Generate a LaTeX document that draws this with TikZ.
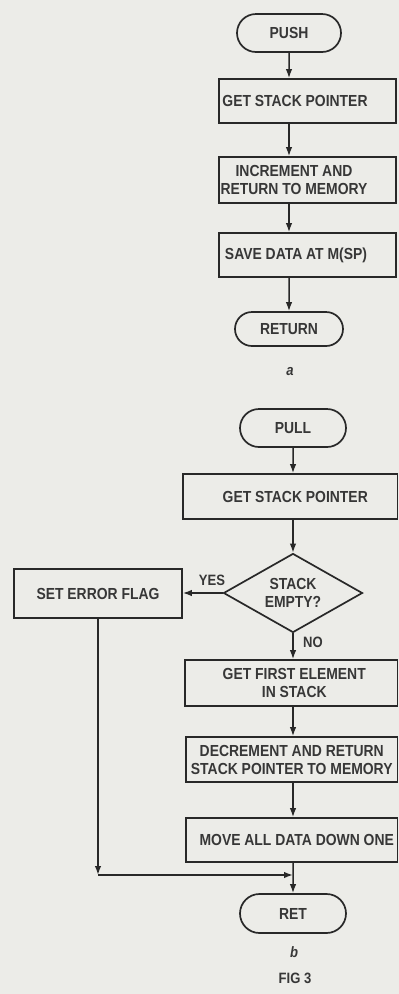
\documentclass[tikz,border=0pt]{standalone}
\usepackage{fontspec}
\setmainfont{Liberation Sans}[FakeStretch=0.87]
\usetikzlibrary{arrows.meta,shapes.geometric,shapes.misc}
\definecolor{paper}{RGB}{236,236,232}
\definecolor{ink}{RGB}{40,40,40}
\definecolor{textink}{RGB}{55,55,55}
\tikzset{
  boxtxt/.style={text=textink, font=\fontsize{16}{18}\selectfont\bfseries},
  box/.style={boxtxt, draw=ink, line width=1.7pt, rectangle, inner sep=0pt, align=center},
  term/.style={boxtxt, draw=ink, line width=1.7pt, rounded rectangle, inner sep=0pt},
  decision/.style={boxtxt, draw=ink, line width=1.7pt, diamond, aspect=1.76, inner sep=0pt, align=center},
  arr/.style={draw=ink, line width=1.5pt, -{Latex[length=9pt,width=6.5pt]}},
  lbl/.style={text=textink, font=\fontsize{15}{16}\selectfont\bfseries}
}
\begin{document}
\begin{tikzpicture}[x=1pt,y=-1pt]
\fill[paper] (0,0) rectangle (399,994);
\useasboundingbox (0,0) rectangle (399,994);
% (a) PUSH
\node[term, minimum width=104pt, minimum height=38pt] (push) at (289,33) {PUSH};
\node[box, minimum width=177pt, minimum height=44pt] (gsp1) at (307.5,101) {GET STACK POINTER\hspace*{25pt}};
\node[box, minimum width=177pt, minimum height=46pt] (inc) at (307.5,180) {INCREMENT AND\hspace*{27pt}\\RETURN TO MEMORY\hspace*{27pt}};
\node[box, minimum width=177pt, minimum height=44pt] (save) at (307.5,255) {SAVE DATA AT M(SP)\hspace*{23pt}};
\node[term, minimum width=108pt, minimum height=34pt] (return) at (289,329) {RETURN};
\node[lbl, font=\fontsize{15}{16}\selectfont\bfseries\itshape] (la) at (290,372) {a};
\draw[arr] (push) -- (gsp1.north -| push);
\draw[arr] (gsp1.south -| push) -- (inc.north -| push);
\draw[arr] (inc.south -| push) -- (save.north -| push);
\draw[arr] (save.south -| push) -- (return);
% (b) PULL
\node[term, minimum width=106pt, minimum height=38pt] (pull) at (293,428) {PULL};
\node[box, minimum width=214.5pt, minimum height=45pt] (gsp2) at (290.25,496.5) {\hspace*{10pt}GET STACK POINTER};
\node[decision, minimum width=139pt, minimum height=79pt] (empty) at (293,593) {STACK\\EMPTY?};
\node[box, minimum width=168pt, minimum height=49pt] (sef) at (98,593.5) {SET ERROR FLAG};
\node[box, minimum width=212.5pt, minimum height=46pt] (gfe) at (291.25,683) {\hspace*{6pt}GET FIRST ELEMENT\\\hspace*{6pt}IN STACK};
\node[box, minimum width=211.5pt, minimum height=45pt] (dec) at (291.75,759.5) {DECREMENT AND RETURN\\STACK POINTER TO MEMORY};
\node[box, minimum width=211.5pt, minimum height=44pt] (move) at (291.75,840) {\hspace*{10pt}MOVE ALL DATA DOWN ONE};
\node[term, minimum width=106pt, minimum height=39pt] (ret) at (293,913.5) {RET};
\node[lbl] (yes) at (212,580) {YES};
\node[lbl] (no) at (313,642) {NO};
\node[lbl, font=\fontsize{15}{16}\selectfont\bfseries\itshape] (lb) at (294,952) {b};
\node[lbl] (fig) at (295,978) {FIG 3};
\coordinate (join) at (293,875);
\coordinate (corner) at (sef.south |- join);
\draw[arr] (pull) -- (gsp2.north -| pull);
\draw[arr] (gsp2.south -| pull) -- (empty);
\draw[arr] (empty.west) -- (empty.west -| sef.east);
\draw[arr] (empty.south) -- (gfe.north -| empty);
\draw[arr] (gfe.south -| empty) -- (dec.north -| empty);
\draw[arr] (dec.south -| empty) -- (move.north -| empty);
\draw[arr] (move.south -| empty) -- (ret);
\draw[arr] (sef.south) -- (corner);
\draw[arr] (corner) -- (join);
\end{tikzpicture}
\end{document}
